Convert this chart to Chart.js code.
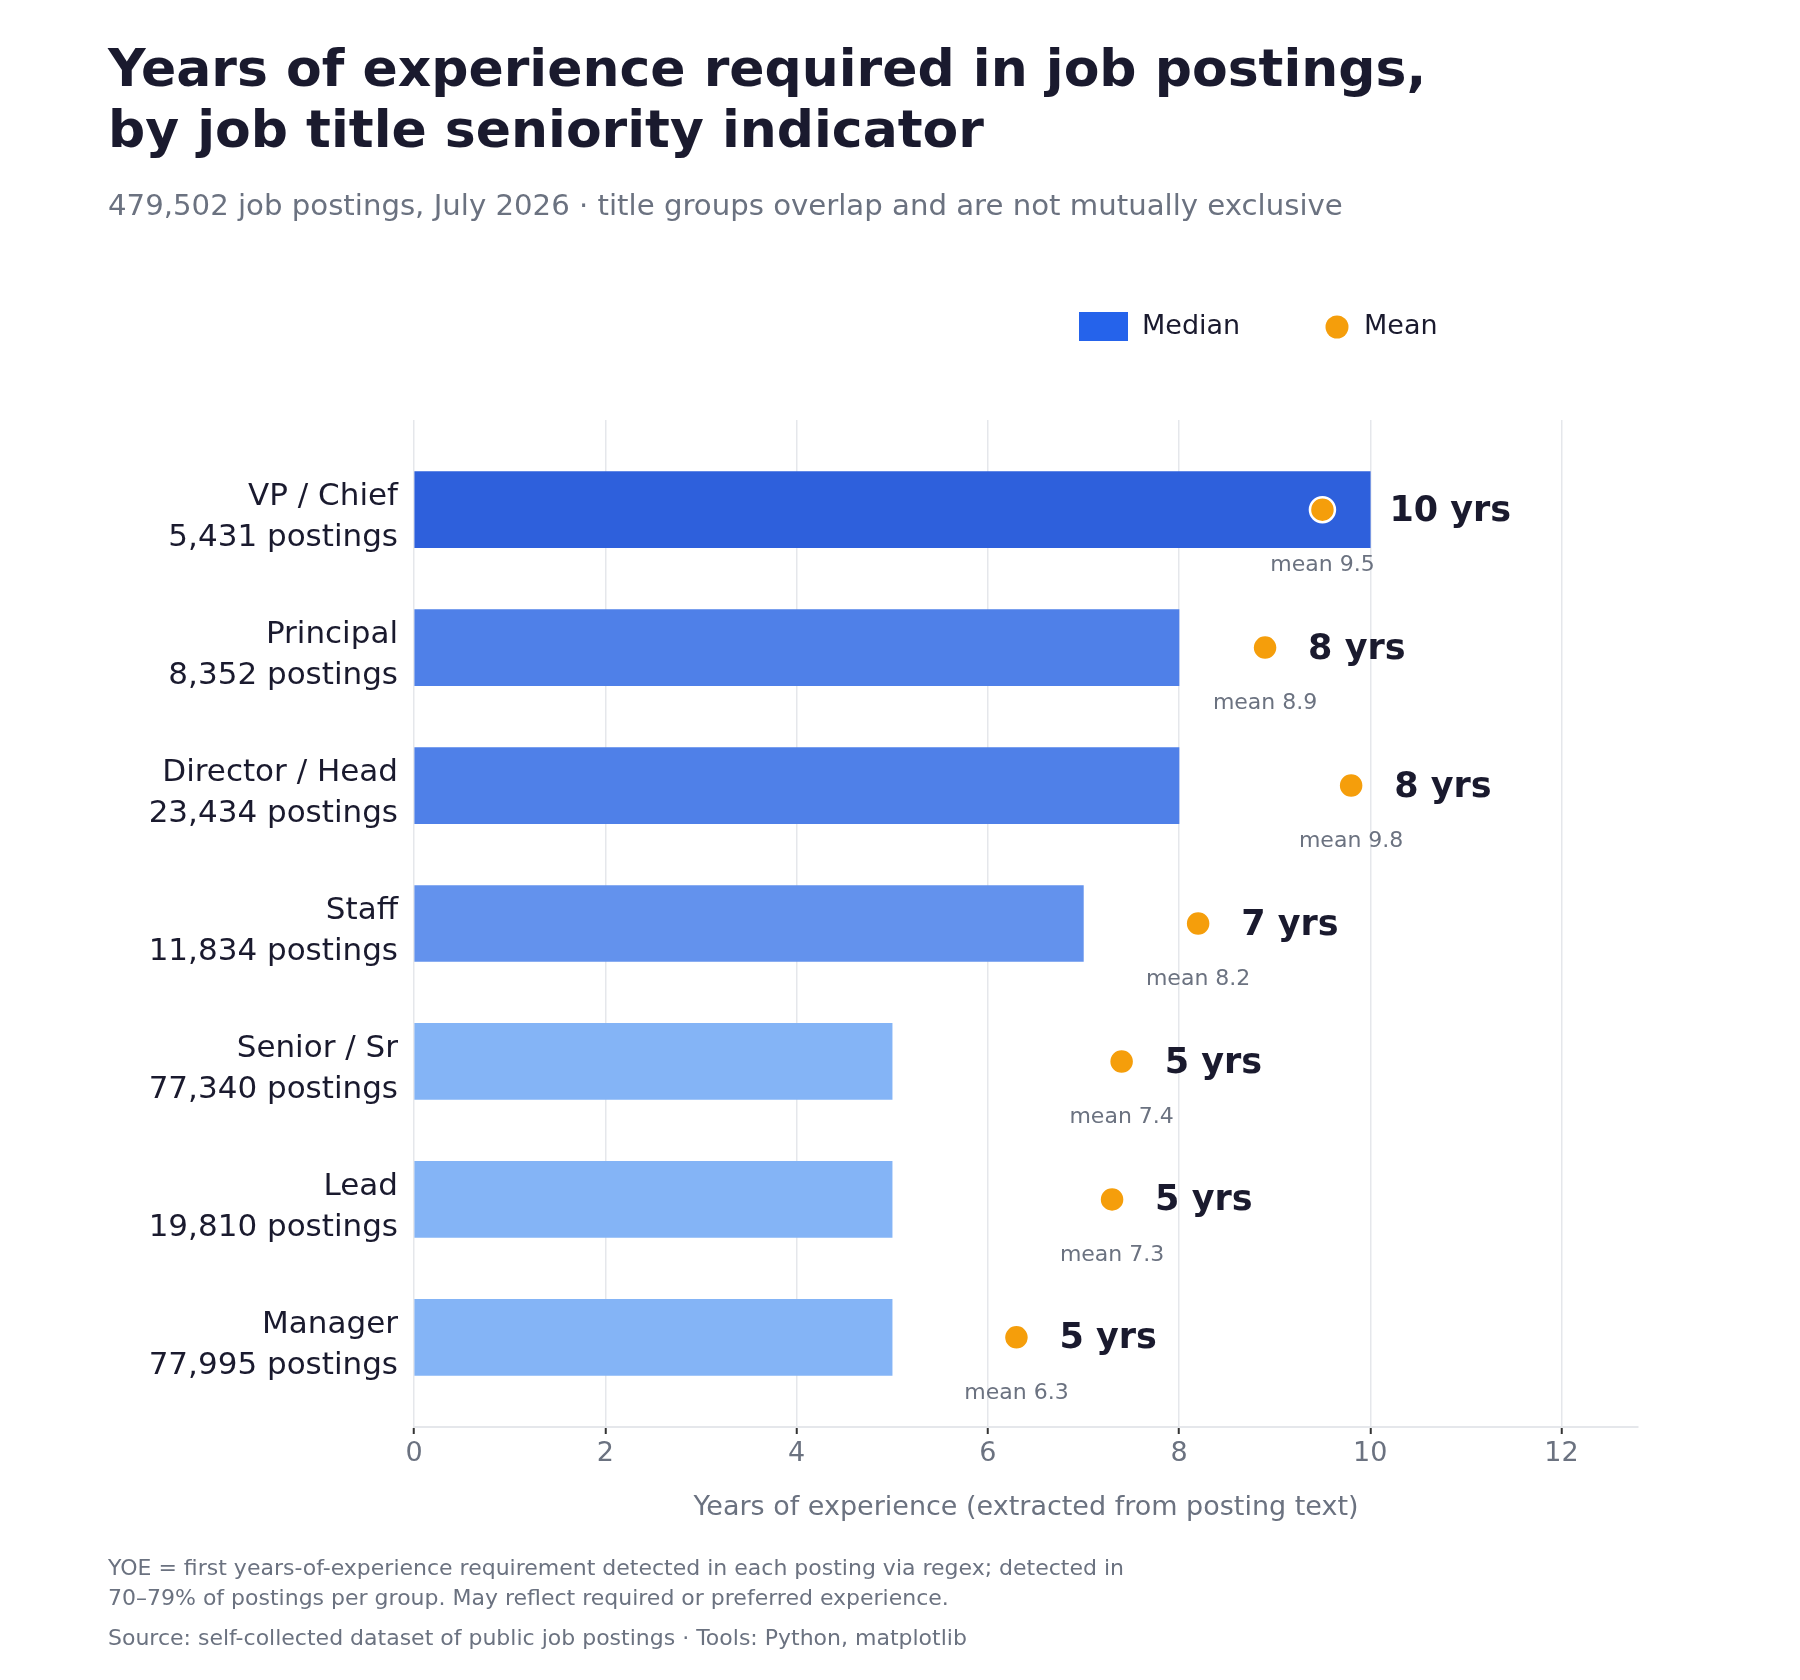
<!DOCTYPE html>
<html>
<head>
<meta charset="utf-8">
<script src="https://cdn.jsdelivr.net/npm/chart.js@4.4.1/dist/chart.umd.min.js"></script>
<style>
  html, body { margin: 0; padding: 0; background: #fff; }
  body { width: 1800px; height: 1680px; position: relative; overflow: hidden; font-family: "DejaVu Sans", sans-serif; }
  #chart { position: absolute; left: 0; top: 0; }
  .title { position: absolute; left: 108px; top: 38px; font-size: 52px; font-weight: bold; line-height: 61px; color: #1a1a2e; white-space: nowrap; }
  .subtitle { position: absolute; left: 108px; top: 187px; font-size: 29.2px; line-height: 36px; color: #6b7280; white-space: nowrap; }
  .note { position: absolute; left: 108px; font-size: 22px; line-height: 30px; color: #6b7280; white-space: nowrap; }
</style>
</head>
<body>
<canvas id="chart" width="1800" height="1680"></canvas>
<div class="title">Years of experience required in job postings,<br>by job title seniority indicator</div>
<div class="subtitle">479,502 job postings, July 2026 · title groups overlap and are not mutually exclusive</div>
<div class="note" style="top:1553px">YOE = first years-of-experience requirement detected in each posting via regex; detected in<br>70–79% of postings per group. May reflect required or preferred experience.</div>
<div class="note" style="top:1623px">Source: self-collected dataset of public job postings · Tools: Python, matplotlib</div>
<script>
const categories = ['VP / Chief', 'Principal', 'Director / Head', 'Staff', 'Senior / Sr', 'Lead', 'Manager'];
const postings = ['5,431', '8,352', '23,434', '11,834', '77,340', '19,810', '77,995'];
const medianYears = [10, 8, 8, 7, 5, 5, 5];
const meanYears = [9.5, 8.9, 9.8, 8.2, 7.4, 7.3, 6.3];
const barColors = ['#2e60dc', '#4f80e8', '#4f80e8', '#6392ed', '#84b4f6', '#84b4f6', '#84b4f6'];
const xTicks = [0, 2, 4, 6, 8, 10, 12];

const ink = '#1a1a2e';
const grey = '#6b7280';
const font = '"DejaVu Sans", sans-serif';

// value labels, mean labels and the legend
const annotate = {
  id: 'annotate',
  afterDatasetsDraw(chart) {
    const ctx = chart.ctx;
    const xs = chart.scales.x, ys = chart.scales.y;
    ctx.save();
    categories.forEach((c, i) => {
      const y = ys.getPixelForValue(i);
      const lx = xs.getPixelForValue(Math.max(medianYears[i] + 0.2, meanYears[i] + 0.45));
      ctx.font = 'bold 35px ' + font;
      ctx.fillStyle = ink;
      ctx.textAlign = 'left';
      ctx.textBaseline = 'middle';
      ctx.fillText(medianYears[i] + ' yrs', lx, y + 2);
      ctx.font = '22px ' + font;
      ctx.fillStyle = grey;
      ctx.textAlign = 'center';
      ctx.fillText('mean ' + meanYears[i].toFixed(1), xs.getPixelForValue(meanYears[i]), y + 56);
    });
    // legend
    ctx.fillStyle = '#2563eb';
    ctx.fillRect(1079, 312, 49, 29);
    ctx.font = '27px ' + font;
    ctx.fillStyle = ink;
    ctx.textAlign = 'left';
    ctx.textBaseline = 'middle';
    ctx.fillText('Median', 1142, 327);
    ctx.beginPath();
    ctx.arc(1337, 327, 11.5, 0, Math.PI * 2);
    ctx.fillStyle = '#f59e0b';
    ctx.fill();
    ctx.fillStyle = ink;
    ctx.fillText('Mean', 1364, 327);
    ctx.restore();
  }
};

new Chart(document.getElementById('chart'), {
  data: {
    datasets: [
      {
        type: 'scatter',
        label: 'Mean',
        data: meanYears.map((v, i) => ({ x: v, y: i })),
        backgroundColor: '#f59e0b',
        borderColor: '#ffffff',
        borderWidth: 2.5,
        pointRadius: 12.5,
        order: 0
      },
      {
        type: 'bar',
        label: 'Median',
        data: medianYears.map((v, i) => ({ x: v, y: i })),
        backgroundColor: barColors,
        barThickness: 76,
        order: 1
      }
    ]
  },
  options: {
    indexAxis: 'y',
    responsive: false,
    animation: false,
    devicePixelRatio: 1,
    layout: { padding: { top: 420, left: 0, right: 162, bottom: 0 } },
    plugins: { legend: { display: false }, tooltip: { enabled: false } },
    scales: {
      x: {
        type: 'linear',
        min: 0,
        max: 12.8,
        afterFit: s => { s.height = 253; },
        afterBuildTicks: s => { s.ticks = xTicks.map(v => ({ value: v })); },
        ticks: { color: grey, font: { family: font, size: 27 }, padding: 4, includeBounds: false },
        grid: { color: '#e5e7eb', lineWidth: 1.5, tickColor: '#333333', tickLength: 7, tickWidth: 2 },
        border: { color: '#e5e7eb', width: 2 },
        title: {
          display: true,
          text: 'Years of experience (extracted from posting text)',
          color: grey,
          font: { family: font, size: 27, lineHeight: 1.2 },
          padding: { top: 0, bottom: 156 }
        }
      },
      y: {
        type: 'linear',
        min: -0.65,
        max: 6.65,
        reverse: true,
        offset: false,
        afterFit: s => { s.width = 414; },
        afterBuildTicks: s => { s.ticks = categories.map((c, i) => ({ value: i })); },
        ticks: {
          color: ink,
          font: { family: font, size: 31, lineHeight: 1.33 },
          padding: 16,
          labelOffset: 8,
          callback: v => [categories[v], postings[v] + ' postings']
        },
        grid: { display: false, drawTicks: false },
        border: { display: false }
      }
    }
  },
  plugins: [annotate]
});
</script>
</body>
</html>
